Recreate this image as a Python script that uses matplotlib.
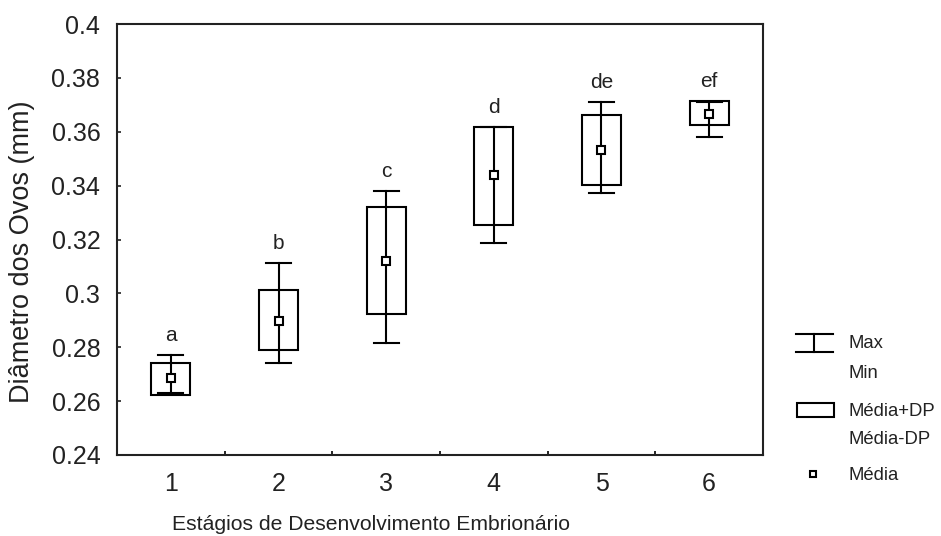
import matplotlib
matplotlib.use("Agg")
import matplotlib.pyplot as plt
from matplotlib.patches import Rectangle
from matplotlib import font_manager

# data (egg diameter, mm)
stages = [1, 2, 3, 4, 5, 6]
letters = ["a", "b", "c", "d", "de", "ef"]
means = [0.2684, 0.2899, 0.3121, 0.3440, 0.3531, 0.3665]
sd_high = [0.2743, 0.3011, 0.3321, 0.3619, 0.3663, 0.3716]
sd_low = [0.2623, 0.2788, 0.2922, 0.3253, 0.3401, 0.3626]
max_vals = [0.2773, 0.3114, 0.3380, 0.3619, 0.3709, 0.3711]
min_vals = [0.2630, 0.2743, 0.2817, 0.3188, 0.3373, 0.3581]

ytick_vals = [0.24, 0.26, 0.28, 0.30, 0.32, 0.34, 0.36, 0.38, 0.40]
ytick_labels = ["0.24", "0.26", "0.28", "0.3", "0.32", "0.34", "0.36", "0.38", "0.4"]


def pickFont(names):
    """return the first installed font family of the list"""
    for name in names:
        try:
            font_manager.findfont(font_manager.FontProperties(family=name), fallback_to_default=False)
            return name
        except ValueError:
            pass
    return "DejaVu Sans"


mainFont = pickFont(["Liberation Sans", "Arial"])
plt.rcParams["font.family"] = [mainFont, "DejaVu Sans"]

W, H = 941, 536
fig = plt.figure(figsize=(W / 100, H / 100), dpi=100)
ax = fig.add_axes([117 / W, (H - 455) / H, 646 / W, 431 / H])

lw = 1.5
boxWidth = 0.36
capWidth = 0.23
textColor = "#222222"

for x, lo, hi, mn, mx, m, let in zip(stages, sd_low, sd_high, min_vals, max_vals, means, letters):
    ax.add_patch(Rectangle((x - boxWidth / 2, lo), boxWidth, hi - lo,
                           facecolor="white", edgecolor="black", lw=lw, zorder=2))
    ax.plot([x, x], [mn, mx], color="black", lw=lw, zorder=3)
    ax.plot([x - capWidth / 2, x + capWidth / 2], [mx, mx], color="black", lw=lw, zorder=3)
    ax.plot([x - capWidth / 2, x + capWidth / 2], [mn, mn], color="black", lw=lw, zorder=3)
    ax.plot(x, m, marker="s", ms=6, mfc="white", mec="black", mew=lw, zorder=4)
    ax.annotate(let, (x, max(mx, hi)), xytext=(0, 10), textcoords="offset points",
                ha="center", va="baseline", fontsize=15, color=textColor)

ax.set_xlim(0.5, 6.5)
ax.set_ylim(0.24, 0.40)
ax.set_yticks(ytick_vals)
ax.set_yticklabels(ytick_labels)
ax.set_xticks(stages)
ax.set_xticklabels([str(s) for s in stages])
ax.set_xticks([s + 0.5 for s in stages[:-1]], minor=True)

ax.tick_params(axis="y", direction="in", length=3, width=1.2, pad=12, labelsize=18, colors=textColor)
ax.tick_params(axis="x", which="major", length=0, pad=12, labelsize=18, colors=textColor)
ax.tick_params(axis="x", which="minor", direction="in", length=3, width=1.2)
for sp in ax.spines.values():
    sp.set_linewidth(lw)
    sp.set_color(textColor)

ax.set_xlabel("Estágios de Desenvolvimento Embrionário", fontsize=15.2, color=textColor)
ax.xaxis.label.set_va("center")
ax.xaxis.set_label_coords((371 - 117) / 646, (455 - 524) / 431)
ax.set_ylabel("Diâmetro dos Ovos (mm)", fontsize=19.5, color=textColor)
ax.yaxis.label.set_va("center")
ax.yaxis.set_label_coords((22.5 - 117) / 646, (455 - 252) / 431)

# legend drawn by hand on an overlay in pixel coordinates
lax = fig.add_axes([0, 0, 1, 1], facecolor="none")
lax.set_xlim(0, W)
lax.set_ylim(H, 0)
lax.axis("off")
lax.plot([796, 833], [334, 334], color="black", lw=lw)
lax.plot([796, 833], [351.5, 351.5], color="black", lw=lw)
lax.plot([814, 814], [334, 351.5], color="black", lw=lw)
lax.add_patch(Rectangle((797, 403), 37, 14, facecolor="none", edgecolor="black", lw=lw))
lax.plot(813, 474, marker="s", ms=5, mfc="white", mec="black", mew=lw)

legendText = [("Max", 344), ("Min", 373), ("Média+DP", 411), ("Média-DP", 440), ("Média", 475)]
for txt, y in legendText:
    lax.text(849, y, txt, ha="left", va="center", fontsize=13.3, color=textColor)

fig.savefig("out.png", dpi=100)
